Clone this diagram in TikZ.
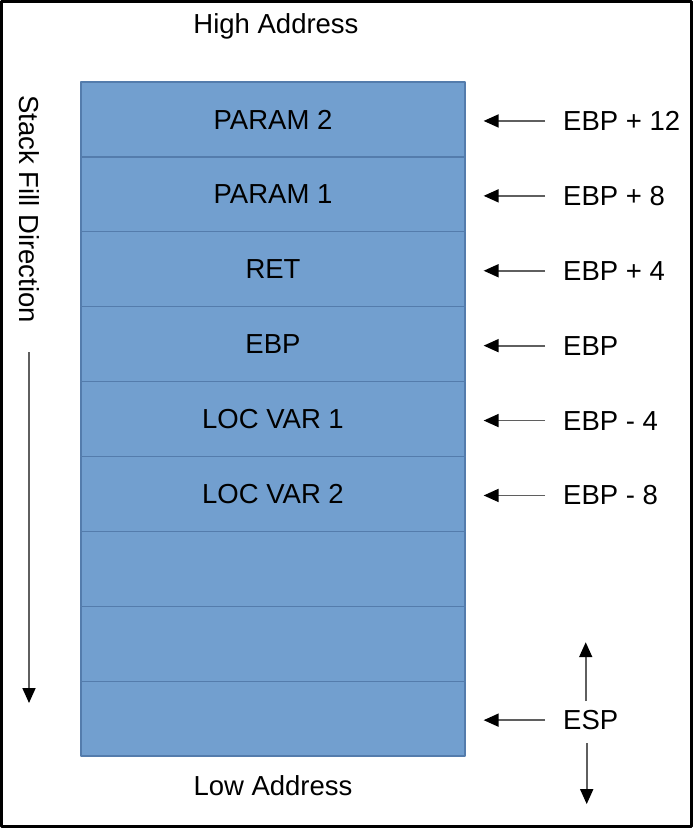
\documentclass[tikz,border=0pt]{standalone}
\usepackage{fontspec}
\setmainfont{Liberation Sans}
\usetikzlibrary{arrows.meta}
\begin{document}
\begin{tikzpicture}[x=1pt, y=-1pt, line cap=round, line join=round,
  cell/.style={draw=stackline, line width=1.3pt, fill=stackblue,
    minimum width=384pt, minimum height=74.9pt, inner sep=0pt},
  lbl/.style={inner sep=0pt, anchor=west},
  ptr/.style={draw=arrowgray, line width=1.8pt, line cap=butt,
    -{Triangle[length=15pt, width=13pt, black]}}]
  \definecolor{stackblue}{RGB}{114,159,207}
  \definecolor{stackline}{RGB}{84,124,172}
  \definecolor{arrowgray}{RGB}{95,95,95}
  \useasboundingbox (0,0) rectangle (695,830);
  \draw[line width=3pt] (1.5,1.5) rectangle (691.5,826.5);
  \fontsize{27.5}{32}\selectfont
  % the stack
  \foreach \i/\txt in {1/PARAM 2, 2/PARAM 1, 3/RET, 4/EBP, 5/LOC VAR 1,
      6/LOC VAR 2, 7/, 8/, 9/}
    \node[cell] (cell\i) at (273,{82+74.9*(\i-0.5)}) {\txt};
  \node[anchor=base] (high) at (276,33) {High Address};
  \node[anchor=base] (low) at (273,795) {Low Address};
  % offsets from EBP
  \foreach \i/\txt in {1/EBP + 12, 2/EBP + 8, 3/EBP + 4, 4/EBP, 5/EBP - 4,
      6/EBP - 8, 9/ESP} {
    \node[lbl] (off\i) at (563,{82+74.9*(\i-0.5)+1.5}) {\txt};
    \draw[ptr] ([xshift=-18pt]off\i.west) -- ([xshift=18pt]cell\i.east |- off\i.west);
  }
  \draw[ptr] ([xshift=-5pt,yshift=9pt]off9.north) -- ++(0,-59);
  \draw[ptr] ([xshift=-4pt,yshift=-13pt]off9.south) -- ++(0,61);
  % fill direction
  \node[rotate=-90, inner sep=0pt] (dir) at (29,209) {Stack Fill Direction};
  \coordinate (dirend) at (29,703);
  \draw[ptr] ([yshift=-29pt]dir.east) -- (dirend);
\end{tikzpicture}
\end{document}
